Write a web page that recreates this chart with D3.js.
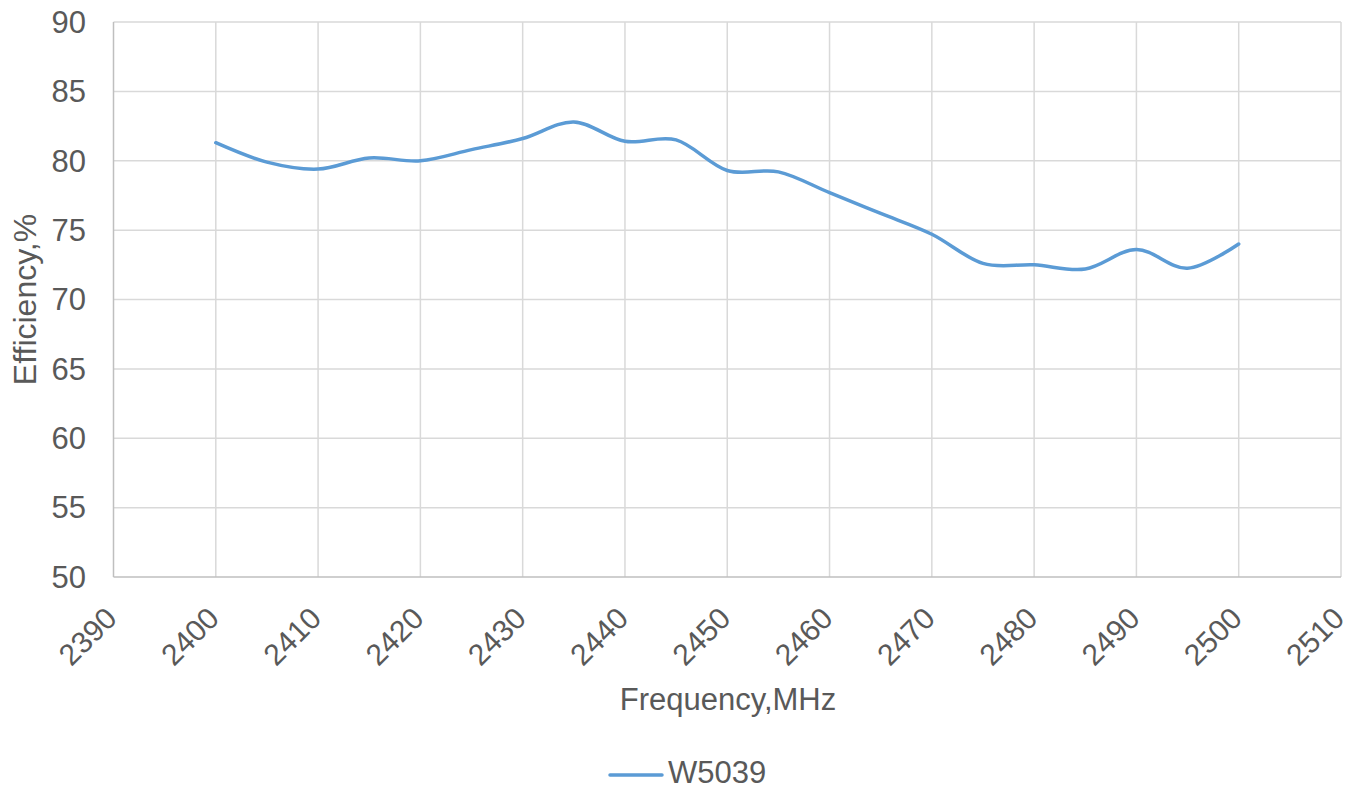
<!DOCTYPE html>
<html>
<head>
<meta charset="utf-8">
<script src="https://cdn.jsdelivr.net/npm/d3@7"></script>
<style>
  html, body { margin: 0; padding: 0; background: #fff; }
  svg { display: block; }
  text { font-family: "Liberation Sans", Arial, sans-serif; fill: #595959; }
</style>
</head>
<body>
<svg id="chart" width="1361" height="790"></svg>
<script>
const frequencies = [2400, 2405, 2410, 2415, 2420, 2425, 2430, 2435, 2440, 2445, 2450,
                     2455, 2460, 2465, 2470, 2475, 2480, 2485, 2490, 2495, 2500];
const efficiencyW5039 = [81.3, 79.9, 79.4, 80.2, 80.0, 80.8, 81.6, 82.8, 81.4, 81.5, 79.3,
                         79.2, 77.7, 76.2, 74.7, 72.6, 72.5, 72.2, 73.6, 72.25, 74.0];
const xTicks = [2390, 2400, 2410, 2420, 2430, 2440, 2450, 2460, 2470, 2480, 2490, 2500, 2510];
const yTicks = [50, 55, 60, 65, 70, 75, 80, 85, 90];
const seriesName = "W5039";
const xTitle = "Frequency,MHz";
const yTitle = "Efficiency,%";

const svg = d3.select("#chart");
const pLeft = 113.5, pRight = 1341, pTop = 22, pBottom = 577;
const fs = 31;

const x = d3.scaleLinear().domain([2390, 2510]).range([pLeft, pRight]);
const y = d3.scaleLinear().domain([50, 90]).range([pBottom, pTop]);

// gridlines
svg.append("g").selectAll("line").data(yTicks.filter(d => d !== 50)).join("line")
  .attr("x1", pLeft).attr("x2", pRight)
  .attr("y1", d => y(d)).attr("y2", d => y(d))
  .attr("stroke", "#d9d9d9").attr("stroke-width", 1.5);
svg.append("g").selectAll("line").data(xTicks.filter(d => d !== 2390)).join("line")
  .attr("x1", d => x(d)).attr("x2", d => x(d))
  .attr("y1", pTop).attr("y2", pBottom)
  .attr("stroke", "#d9d9d9").attr("stroke-width", 1.5);

// axis lines
svg.append("line").attr("x1", pLeft).attr("x2", pLeft).attr("y1", pTop).attr("y2", pBottom)
  .attr("stroke", "#bfbfbf").attr("stroke-width", 1.5);
svg.append("line").attr("x1", pLeft).attr("x2", pRight).attr("y1", pBottom).attr("y2", pBottom)
  .attr("stroke", "#bfbfbf").attr("stroke-width", 1.5);

// y tick labels
svg.append("g").selectAll("text").data(yTicks).join("text")
  .attr("x", 86).attr("y", d => y(d)).attr("dy", "0.35em")
  .attr("text-anchor", "end").attr("font-size", fs)
  .text(d => d);

// x tick labels rotated
svg.append("g").selectAll("text").data(xTicks).join("text")
  .attr("transform", d => `translate(${x(d) - 10},${pBottom + 28}) rotate(-45)`)
  .attr("text-anchor", "end").attr("dy", "0.71em").attr("font-size", 30)
  .text(d => d);

// axis titles
svg.append("text").attr("x", 728).attr("y", 710).attr("text-anchor", "middle")
  .attr("font-size", fs).text(xTitle);
svg.append("text").attr("transform", `translate(36,${(pTop + pBottom) / 2}) rotate(-90)`)
  .attr("text-anchor", "middle").attr("font-size", 32).text(yTitle);

// line
const line = d3.line()
  .x((d, i) => x(frequencies[i]))
  .y(d => y(d))
  .curve(d3.curveCatmullRom.alpha(0));
svg.append("path").datum(efficiencyW5039)
  .attr("d", line).attr("fill", "none")
  .attr("stroke", "#5b9bd5").attr("stroke-width", 3.5).attr("stroke-linecap", "round");

// legend
svg.append("line").attr("x1", 610).attr("x2", 662).attr("y1", 775).attr("y2", 775)
  .attr("stroke", "#5b9bd5").attr("stroke-width", 3.5).attr("stroke-linecap", "round");
svg.append("text").attr("x", 668).attr("y", 783)
  .attr("font-size", fs).text(seriesName);
</script>
</body>
</html>
